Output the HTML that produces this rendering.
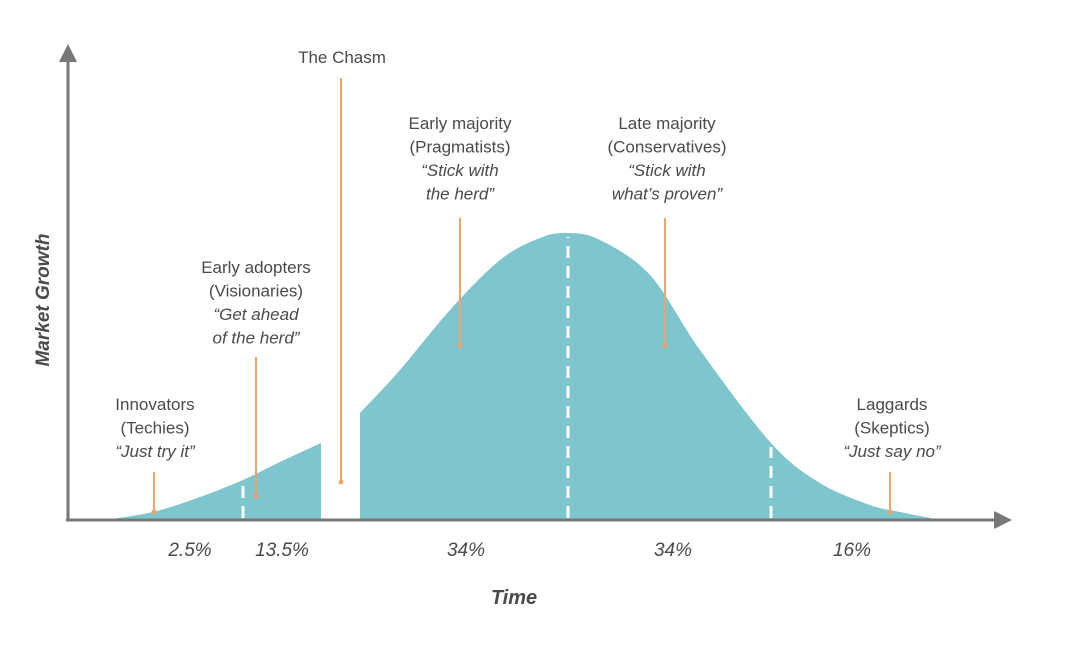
<!DOCTYPE html>
<html><head><meta charset="utf-8"><style>
html,body{margin:0;padding:0;background:#fff;}
svg{display:block;font-family:"Liberation Sans",sans-serif;}
.lbl{font-size:17px;fill:#4a4a4a;text-anchor:middle;}
.it{font-style:italic;}
.pct{font-size:19px;fill:#4a4a4a;font-style:italic;text-anchor:middle;}
</style></head><body>
<svg id="chart" width="1080" height="654" viewBox="0 0 1080 654">
  <g id="curves"></g>
  <g id="dividers"></g>
  <g>
    <line x1="68" y1="520" x2="68" y2="58" stroke="#777" stroke-width="3"/>
    <polygon points="68,44 59,62 77,62" fill="#777"/>
    <line x1="66" y1="520" x2="996" y2="520" stroke="#777" stroke-width="3"/>
    <polygon points="1012,520 994,511 994,529" fill="#777"/>
  </g>
  <text transform="translate(49,300) rotate(-90)" style="font-size:19px;font-weight:bold;font-style:italic;fill:#4a4a4a;text-anchor:middle">Market Growth</text>
  <text x="514" y="604" style="font-size:20px;font-weight:bold;font-style:italic;fill:#4a4a4a;text-anchor:middle">Time</text>
  <g id="pcts"></g>
  <g id="callouts"></g>
</svg>
<script>
// curve samples (x pixel position along time axis, observed height above baseline)
const leftX = [105,153,200,243,280,321];
const leftH = [0,8,23,40,58,77];
const rightX = [360,400,450,500,540,568,600,650,700,771,820,870,900,940];
const rightH = [107,150,210,260,282,287,280,245,170,77,37,15,8,0];
const dividerX = [243,568,771];
const pctLabels = ["2.5%","13.5%","34%","34%","16%"];
const pctX = [190,282,466,673,852];
const base = 520;
const NS = "http://www.w3.org/2000/svg";
function smoothPath(xs, hs){
  const p = xs.map((x,i)=>[x, base - hs[i]]);
  let d = `M${p[0][0]},${base} L${p[0][0]},${p[0][1]}`;
  for(let i=0;i<p.length-1;i++){
    const p0=p[Math.max(0,i-1)],p1=p[i],p2=p[i+1],p3=p[Math.min(p.length-1,i+2)];
    const c1=[p1[0]+(p2[0]-p0[0])/6,p1[1]+(p2[1]-p0[1])/6];
    const c2=[p2[0]-(p3[0]-p1[0])/6,p2[1]-(p3[1]-p1[1])/6];
    d+=` C${c1[0]},${c1[1]} ${c2[0]},${c2[1]} ${p2[0]},${p2[1]}`;
  }
  d+=` L${p[p.length-1][0]},${base} Z`;
  return d;
}
function heightAt(x){
  const xs = x<340?leftX:rightX, hs = x<340?leftH:rightH;
  for(let i=0;i<xs.length-1;i++){ if(x>=xs[i]&&x<=xs[i+1]){const t=(x-xs[i])/(xs[i+1]-xs[i]);return hs[i]+t*(hs[i+1]-hs[i]);} }
  return 0;
}
const g = document.getElementById('curves');
[[leftX,leftH,'early-segment-area'],[rightX,rightH,'majority-segment-area']].forEach(([xs,hs,n])=>{
  const el=document.createElementNS(NS,'path');
  el.setAttribute('d',smoothPath(xs,hs));
  el.setAttribute('fill','#7ec5cd');
  
  
  g.appendChild(el);
});
const dg=document.getElementById('dividers');
dividerX.forEach(x=>{
  const el=document.createElementNS(NS,'line');
  el.setAttribute('x1',x);el.setAttribute('x2',x);
  el.setAttribute('y1',base-2);el.setAttribute('y2',base-heightAt(x)+4);
  el.setAttribute('stroke','#fff');el.setAttribute('stroke-width','3');el.setAttribute('stroke-dasharray','12,8');
  
  
  dg.appendChild(el);
});
const pg=document.getElementById('pcts');
pctLabels.forEach((t,i)=>{
  const el=document.createElementNS(NS,'text');
  el.setAttribute('x',pctX[i]);el.setAttribute('y',556);el.setAttribute('class','pct');
  el.textContent=t;
  
  
  pg.appendChild(el);
});
// callouts: [center x, first line y, lines, italic-from index, line x, line y1, line y2]
const callouts=[
  [155,["Innovators","(Techies)","\u201CJust try it\u201D"],410,2,154,472,512],
  [256,["Early adopters","(Visionaries)","\u201CGet ahead","of the herd\u201D"],273,2,256,357,496],
  [342,["The Chasm"],63,9,341,78,482],
  [460,["Early majority","(Pragmatists)","\u201CStick with","the herd\u201D"],129,2,460,218,346],
  [667,["Late majority","(Conservatives)","\u201CStick with","what\u2019s proven\u201D"],129,2,665,218,346],
  [892,["Laggards","(Skeptics)","\u201CJust say no\u201D"],410,2,890,472,512]
];
const cg=document.getElementById('callouts');
callouts.forEach(([cx,lines,y0,itIdx,lx,ly1,ly2])=>{
  lines.forEach((t,i)=>{
    const el=document.createElementNS(NS,'text');
    el.setAttribute('x',cx);el.setAttribute('y',y0+i*23.5);
    el.setAttribute('class','lbl'+(i>=itIdx?' it':''));
    el.textContent=t;
    
    
    cg.appendChild(el);
  });
  const ln=document.createElementNS(NS,'line');
  ln.setAttribute('x1',lx);ln.setAttribute('x2',lx);ln.setAttribute('y1',ly1);ln.setAttribute('y2',ly2);
  ln.setAttribute('stroke','#f0a46a');ln.setAttribute('stroke-width','2');
  
  
  cg.appendChild(ln);
  const dot=document.createElementNS(NS,'circle');
  dot.setAttribute('cx',lx);dot.setAttribute('cy',ly2);dot.setAttribute('r','2.5');dot.setAttribute('fill','#f0a46a');
  
  
  cg.appendChild(dot);
});
</script>
</body></html>
